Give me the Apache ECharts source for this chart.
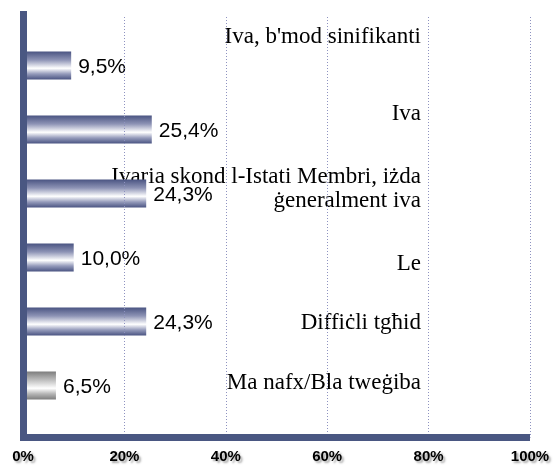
<!DOCTYPE html>
<html>
<head>
<meta charset="utf-8">
<script src="https://cdn.jsdelivr.net/npm/echarts@6/dist/echarts.min.js"></script>
<style>
  html, body { margin: 0; padding: 0; background: #fff; }
  #chart { width: 558px; height: 469px; }
</style>
</head>
<body>
<div id="chart"></div>
<script>
// categories, top to bottom
const categories = [
  "Iva, b'mod sinifikanti",
  'Iva',
  'Ivaria skond l-Istati Membri, iżda\nġeneralment iva',
  'Le',
  'Diffiċli tgħid',
  'Ma nafx/Bla tweġiba'
]
const values = [9.5, 25.4, 24.3, 10.0, 24.3, 6.5]
const xTicks = [0, 20, 40, 60, 80, 100]

// vertical nudge of each category text vs its bar (px, negative = up)
const labelShift = [-28.5, -16, -10, 6, 1, -3]

const chart = echarts.init(document.getElementById('chart'))

const navy = '#4a5782'
const catFont = 23
const blueGrad = new echarts.graphic.LinearGradient(0, 0, 0, 1, [
  { offset: 0, color: '#4a5482' },
  { offset: 0.3, color: '#8d93b5' },
  { offset: 0.6, color: '#ffffff' },
  { offset: 0.8, color: '#959bbb' },
  { offset: 1, color: '#4a5482' }
])
const grayGrad = new echarts.graphic.LinearGradient(0, 0, 0, 1, [
  { offset: 0, color: '#7d7d7d' },
  { offset: 0.3, color: '#bdbdbd' },
  { offset: 0.6, color: '#ffffff' },
  { offset: 0.8, color: '#b5b5b5' },
  { offset: 1, color: '#7d7d7d' }
])

// rich styles for the shifted category texts
const rich = {}
labelShift.forEach((s, i) => {
  rich['c' + i] = {
    fontFamily: 'Liberation Serif', fontSize: catFont, color: '#000',
    lineHeight: catFont + 2 * Math.abs(s), verticalAlign: s < 0 ? 'top' : 'bottom'
  }
})
rich.l1 = { fontFamily: 'Liberation Serif', fontSize: catFont, color: '#000', lineHeight: 24 }
rich.l2 = { fontFamily: 'Liberation Serif', fontSize: catFont, color: '#000', lineHeight: 33, verticalAlign: 'top' }

const option = {
  animation: false,
  grid: [
    // bars
    { left: 23, right: 28, top: 33.5, bottom: 51.5 },
    // frame: bottom axis + dotted lines
    { left: 23, right: 28, top: 17, bottom: 31.5 },
    // left axis bar
    { left: 23, right: 28, top: 11, bottom: 28 }
  ],
  xAxis: [
    { gridIndex: 0, type: 'value', min: 0, max: 100, show: false },
    {
      gridIndex: 1, type: 'value', min: 0, max: 100, interval: 20, z: 5,
      axisLine: { show: true, onZero: false, lineStyle: { color: navy, width: 7, cap: 'butt' } },
      axisTick: { show: false },
      splitLine: { show: true, lineStyle: { color: '#8e92c0', type: [1, 2], width: 1 } },
      axisLabel: {
        margin: 12,
        formatter: v => v + '%',
        fontFamily: 'Liberation Sans', fontWeight: 'bold', fontSize: 15, color: '#000',
        textShadowColor: 'rgba(0,0,0,0.35)', textShadowBlur: 2,
        textShadowOffsetX: 2, textShadowOffsetY: 2
      }
    },
    { gridIndex: 2, type: 'value', min: 0, max: 100, show: false }
  ],
  yAxis: [
    {
      gridIndex: 0, type: 'category', data: categories, inverse: true,
      position: 'right',
      axisLine: { show: false }, axisTick: { show: false }, splitLine: { show: false },
      axisLabel: {
        inside: true, margin: 109, align: 'right',
        fontFamily: 'Liberation Serif', fontSize: catFont, color: '#000',
        formatter: (v, i) => {
          if (v.indexOf('\n') >= 0) {
            const parts = v.split('\n')
            return '{l1|' + parts[0] + '}\n{l2|' + parts[1] + '}'
          }
          return '{c' + i + '|' + v + '}'
        },
        rich: rich
      }
    },
    { gridIndex: 1, type: 'value', min: 0, max: 1, show: false },
    {
      gridIndex: 2, type: 'value', min: 0, max: 1, z: 6,
      axisLine: { show: true, onZero: false, lineStyle: { color: navy, width: 7, cap: 'butt' } },
      axisTick: { show: false }, axisLabel: { show: false }, splitLine: { show: false }
    }
  ],
  series: [
    {
      type: 'bar',
      xAxisIndex: 0, yAxisIndex: 0,
      barWidth: 28,
      data: values.map((v, i) => ({
        value: v,
        itemStyle: { color: i === values.length - 1 ? grayGrad : blueGrad }
      })),
      label: {
        show: true, position: 'right', distance: 7, offset: [0, 2],
        formatter: p => p.value.toFixed(1).replace('.', ',') + '%',
        fontFamily: 'Liberation Sans', fontSize: 21, color: '#000'
      }
    }
  ]
}

chart.setOption(option)
</script>
</body>
</html>
